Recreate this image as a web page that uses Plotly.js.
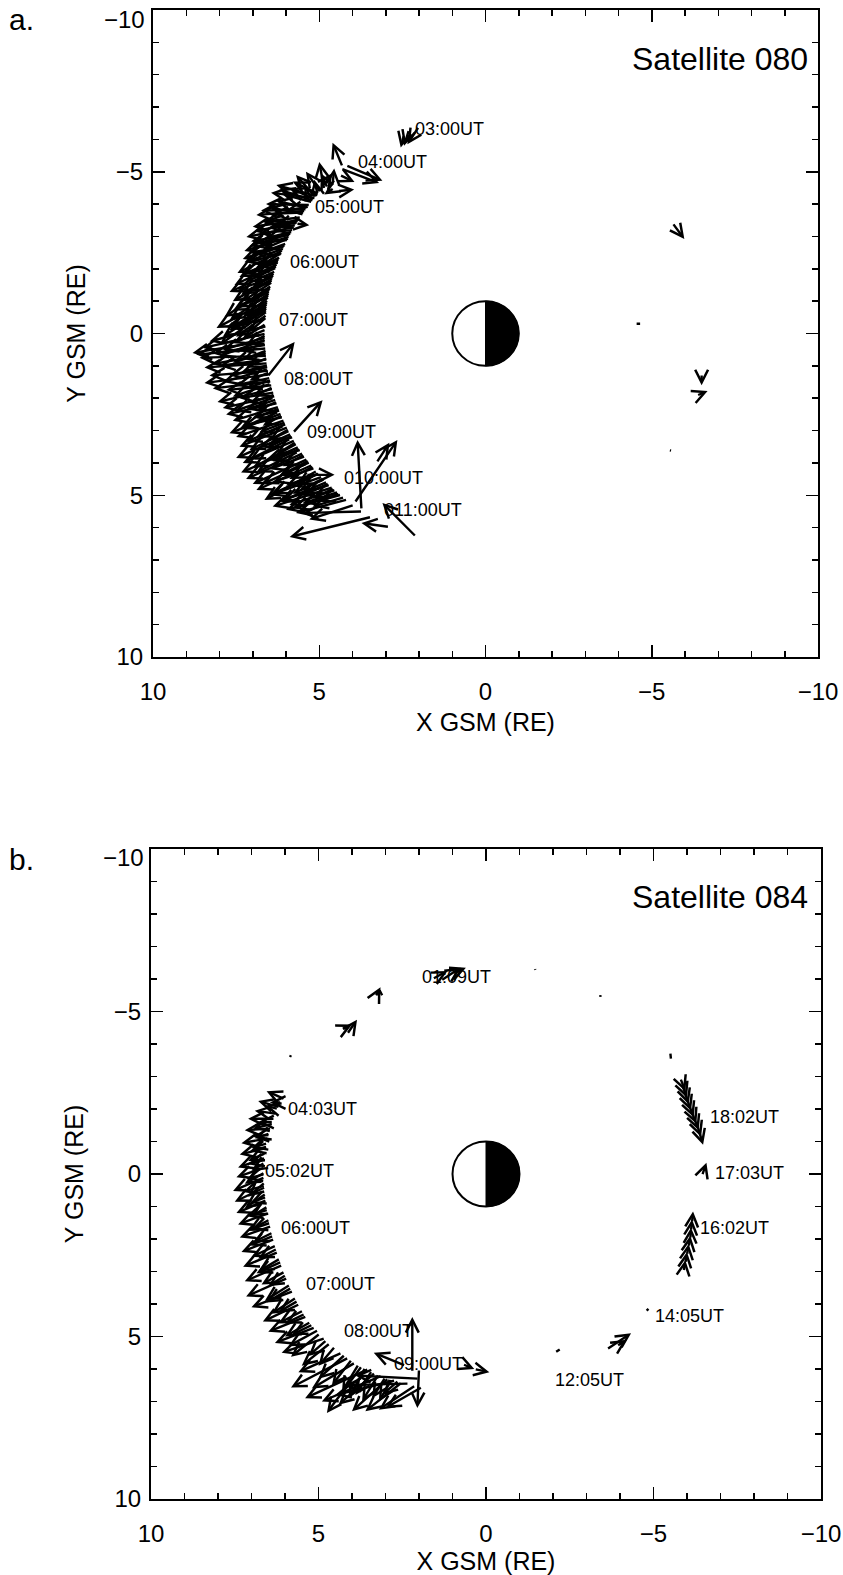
<!DOCTYPE html>
<html>
<head>
<meta charset="utf-8">
<script src="https://cdn.plot.ly/plotly-3.0.1.min.js"></script>
<style>
  html, body { margin: 0; padding: 0; background: #fff; }
  #chart { width: 843px; height: 1575px; }
</style>
</head>
<body>
<div id="chart"></div>
<script>
// ---------------- DATA (GSM coordinates, Earth radii) ----------------
// Each arrow row: [tailX, tailY, headX, headY]

// Panel a (Satellite 080)
const a_timeLabels = ["03:00UT","04:00UT","05:00UT","06:00UT","07:00UT","08:00UT","09:00UT","010:00UT","011:00UT"];
const a_labelX = [2.17, 3.88, 5.20, 5.95, 6.26, 6.11, 5.44, 4.33, 3.10];
const a_labelY = [-6.32, -5.30, -3.91, -2.21, -0.42, 1.41, 3.04, 4.47, 5.46];

const a_sparseArrows = [
  [2.00,-6.40, 2.35,-5.85],
  [2.30,-6.30, 2.45,-5.80],
  [2.45,-6.15, 2.55,-5.75],
  [4.30,-5.15, 4.60,-5.90],
  [4.35,-5.10, 3.20,-4.65],
  [4.20,-5.20, 3.10,-4.72],
  [4.39,-4.90, 3.94,-4.68],
  [4.60,-4.60, 4.55,-5.10],
  [4.75,-4.50, 4.95,-4.95],
  [4.55,-4.50, 4.85,-4.30],
  [4.45,-4.40, 3.95,-4.45],
  [4.90,-4.55, 4.60,-4.95],
  [5.05,-4.30, 5.15,-4.75],
  [5.20,-4.10, 5.45,-4.60],
  [4.85,-4.45, 5.00,-5.30],
  [4.95,-4.35, 5.40,-5.00],
  [5.10,-4.20, 5.70,-4.90],
  [5.70,-3.40, 5.30,-3.35],
  [-5.62,-3.42, -5.98,-2.92],
  [-6.50, 1.25, -6.50, 1.60],
  [-6.35, 1.92, -6.68, 1.78]
];
const a_dashes = [
  [-4.50,-0.30, -4.65,-0.30],
  [-5.50, 3.60, -5.58, 3.62]
];
const a_bandUpper = [
  [5.06,-4.24, 6.29,-4.59],
  [5.13,-4.15, 5.90,-4.50],
  [5.20,-4.06, 6.10,-4.30],
  [5.27,-3.97, 6.60,-4.00],
  [5.34,-3.88, 6.30,-4.10],
  [5.41,-3.79, 6.89,-3.66],
  [5.47,-3.69, 6.50,-3.90],
  [5.54,-3.59, 6.70,-3.45],
  [5.60,-3.50, 7.00,-3.30],
  [5.66,-3.40, 6.60,-3.50],
  [5.72,-3.30, 7.19,-2.98],
  [5.77,-3.20, 6.80,-3.10],
  [5.83,-3.10, 7.10,-2.70],
  [5.88,-3.00, 7.25,-2.55],
  [5.93,-2.89, 6.90,-2.80],
  [5.98,-2.79, 7.30,-2.30],
  [6.03,-2.68, 7.10,-2.50],
  [6.08,-2.58, 7.46,-1.87],
  [6.12,-2.47, 7.20,-2.20],
  [6.16,-2.37, 7.40,-1.75],
  [6.20,-2.26, 7.00,-1.90],
  [6.24,-2.15, 7.55,-1.50],
  [6.28,-2.04, 7.20,-1.60],
  [6.31,-1.93, 7.70,-1.28],
  [6.34,-1.82, 7.35,-1.20],
  [6.38,-1.71, 7.60,-1.00],
  [6.40,-1.60, 7.30,-1.00],
  [6.43,-1.48, 7.85,-0.51],
  [6.46,-1.37, 7.50,-0.80],
  [6.48,-1.26, 7.70,-0.40],
  [6.50,-1.15, 7.30,-0.50],
  [6.52,-1.03, 8.09,-0.17],
  [6.54,-0.92, 7.60,-0.20],
  [6.55,-0.80, 7.90, 0.10],
  [6.56,-0.69, 8.00, 0.35],
  [6.57,-0.58, 7.50, 0.10]
];
const a_bandInnerUpper = [
  [5.00,-4.30, 5.80,-4.70],
  [5.16,-4.10, 6.20,-4.45],
  [5.30,-3.92, 6.00,-3.80],
  [5.44,-3.74, 6.40,-3.70],
  [5.57,-3.55, 6.30,-3.30],
  [5.69,-3.35, 6.50,-3.25],
  [5.80,-3.15, 6.60,-2.95],
  [5.90,-2.95, 6.70,-2.60],
  [6.00,-2.74, 6.80,-2.45],
  [6.10,-2.52, 6.75,-2.10],
  [6.18,-2.31, 6.90,-2.05],
  [6.26,-2.10, 6.95,-1.70],
  [6.33,-1.88, 7.00,-1.45],
  [6.39,-1.66, 7.05,-1.30],
  [6.44,-1.43, 7.10,-0.95],
  [6.49,-1.20, 7.15,-0.80],
  [6.53,-0.97, 7.20,-0.55],
  [6.56,-0.75, 7.25,-0.30],
  [6.58,-0.52, 7.10,-0.05]
];
const a_bandMid = [
  [5.10,-4.18, 6.45,-4.35],
  [5.37,-3.84, 6.75,-3.80],
  [5.63,-3.45, 6.95,-3.15],
  [5.86,-3.05, 7.05,-2.85],
  [6.05,-2.63, 7.25,-2.20],
  [6.22,-2.20, 7.30,-1.85],
  [6.36,-1.76, 7.45,-1.35],
  [6.47,-1.31, 7.60,-0.70],
  [6.55,-0.86, 7.70,-0.10],
  [6.60, 0.18, 8.00, 0.70],
  [6.57, 0.63, 8.20, 0.95],
  [6.53, 1.10, 7.90, 1.50],
  [6.45, 1.55, 7.60, 1.95],
  [6.36, 1.98, 7.55, 2.40],
  [6.22, 2.42, 7.40, 2.95],
  [6.06, 2.85, 7.20, 3.35],
  [5.86, 3.25, 7.10, 3.90],
  [5.63, 3.65, 6.90, 4.30],
  [5.37, 4.02, 6.70, 4.65],
  [5.10, 4.36, 6.40, 4.95],
  [4.80, 4.70, 6.10, 5.15],
  [4.46, 4.98, 5.80, 5.40]
];
const a_bandLower = [
  [6.58,-0.46, 7.80,-0.20],
  [6.60,-0.23, 8.30, 0.25],
  [6.60,-0.12, 7.60, 0.30],
  [6.60, 0.00, 8.50, 0.45],
  [6.60, 0.12, 7.90, 0.50],
  [6.60, 0.23, 8.81, 0.60],
  [6.59, 0.35, 8.20, 0.62],
  [6.58, 0.46, 8.70, 0.65],
  [6.57, 0.58, 7.60, 0.90],
  [6.56, 0.69, 8.60, 0.75],
  [6.55, 0.80, 8.00, 1.00],
  [6.54, 0.92, 8.45, 1.05],
  [6.52, 1.03, 7.70, 1.30],
  [6.50, 1.15, 8.30, 1.30],
  [6.48, 1.26, 8.45, 1.53],
  [6.46, 1.37, 7.50, 1.60],
  [6.43, 1.48, 8.20, 1.70],
  [6.40, 1.60, 7.80, 1.75],
  [6.38, 1.71, 8.06, 2.12],
  [6.34, 1.82, 7.40, 2.00],
  [6.31, 1.93, 7.90, 2.30],
  [6.28, 2.04, 7.20, 2.35],
  [6.24, 2.15, 7.80, 2.50],
  [6.20, 2.26, 7.60, 2.70],
  [6.16, 2.37, 7.00, 2.60],
  [6.12, 2.47, 7.70, 3.08],
  [6.08, 2.58, 7.30, 2.85],
  [6.03, 2.68, 7.50, 3.20],
  [5.98, 2.79, 6.90, 3.20],
  [5.93, 2.89, 7.40, 3.50],
  [5.88, 3.00, 7.10, 3.60],
  [5.83, 3.10, 7.50, 3.85],
  [5.77, 3.20, 6.80, 3.50],
  [5.72, 3.30, 7.30, 4.00],
  [5.66, 3.40, 7.00, 4.15],
  [5.60, 3.50, 7.35, 4.30],
  [5.54, 3.59, 6.60, 3.90],
  [5.47, 3.69, 7.20, 4.50],
  [5.41, 3.79, 6.50, 4.20],
  [5.34, 3.88, 7.00, 4.65],
  [5.27, 3.97, 6.20, 4.40],
  [5.20, 4.06, 6.89, 4.84],
  [5.13, 4.15, 6.40, 4.60],
  [5.06, 4.24, 6.65, 5.15],
  [4.98, 4.33, 6.00, 4.70],
  [4.90, 4.42, 6.50, 5.00],
  [4.83, 4.50, 5.80, 4.95],
  [4.75, 4.58, 6.20, 5.20],
  [4.67, 4.67, 5.60, 5.00],
  [4.58, 4.75, 6.40, 5.35],
  [4.50, 4.83, 5.90, 5.30],
  [4.42, 4.90, 5.50, 5.25],
  [4.33, 4.98, 6.00, 5.45],
  [4.24, 5.06, 5.20, 5.35],
  [4.15, 5.13, 5.70, 5.55],
  [5.40, 4.37, 4.54, 4.37]
];
const a_bandInnerLower = [
  [6.60,-0.30, 7.30, 0.15],
  [6.60, 0.05, 7.20, 0.35],
  [6.60, 0.30, 7.40, 0.55],
  [6.57, 0.52, 7.30, 0.80],
  [6.55, 0.75, 7.20, 1.05],
  [6.53, 0.97, 7.35, 1.20],
  [6.49, 1.20, 7.10, 1.45],
  [6.44, 1.43, 7.20, 1.70],
  [6.39, 1.66, 7.00, 1.95],
  [6.33, 1.88, 7.10, 2.15],
  [6.26, 2.10, 6.90, 2.40],
  [6.18, 2.31, 6.95, 2.60],
  [6.10, 2.52, 6.70, 2.85],
  [6.00, 2.74, 6.80, 3.05],
  [5.90, 2.95, 6.50, 3.30],
  [5.80, 3.15, 6.60, 3.55],
  [5.69, 3.35, 6.30, 3.75],
  [5.57, 3.55, 6.40, 3.95],
  [5.44, 3.74, 6.10, 4.10],
  [5.30, 3.92, 6.10, 4.35],
  [5.16, 4.10, 5.90, 4.50],
  [5.00, 4.30, 5.70, 4.70],
  [4.85, 4.47, 5.60, 4.85],
  [4.70, 4.63, 5.40, 4.95],
  [4.55, 4.78, 5.20, 5.10],
  [4.38, 4.94, 5.00, 5.20]
];
const a_tailArrows = [
  [3.43, 5.67, 5.89, 6.29],
  [3.70, 5.50, 5.50, 5.55],
  [3.95, 5.30, 5.30, 5.75],
  [6.56, 1.34, 5.74, 0.26],
  [5.80, 3.08, 4.90, 2.06],
  [3.73, 5.45, 3.85, 3.29],
  [3.94, 5.24, 2.65, 3.29],
  [3.28, 4.00, 2.89, 3.38],
  [2.08, 6.29, 3.10, 5.24],
  [2.89, 5.98, 3.73, 5.86]
];

// Panel b (Satellite 084)
const b_timeLabels = ["01:09UT","04:03UT","05:02UT","06:00UT","07:00UT","08:00UT","09:00UT","12:05UT","14:05UT","16:02UT","17:03UT","18:02UT"];
const b_labelX = [1.97, 5.97, 6.66, 6.18, 5.43, 4.30, 2.81, -2.00, -4.99, -6.33, -6.78, -6.63];
const b_labelY = [-6.07, -2.00, -0.10, 1.66, 3.39, 4.84, 5.85, 6.35, 4.38, 1.66, -0.03, -1.76];

const b_sparseArrows = [
  [1.35,-5.95, 0.75,-6.35],
  [1.60,-6.00, 1.15,-6.25],
  [0.95,-6.20, 0.60,-6.35],
  [3.30,-5.45, 3.15,-5.75],
  [4.15,-4.30, 3.85,-4.75],
  [4.30,-4.45, 4.00,-4.60],
  [-5.80,-2.95,-5.95,-2.55],
  [-5.85,-2.75,-6.00,-2.35],
  [-5.92,-2.55,-6.05,-2.15],
  [-5.98,-2.35,-6.12,-1.95],
  [-6.05,-2.15,-6.20,-1.75],
  [-6.12,-1.95,-6.28,-1.55],
  [-6.20,-1.75,-6.35,-1.35],
  [-6.28,-1.55,-6.42,-1.15],
  [-6.35,-1.35,-6.48,-0.90],
  [-6.45, 0.05,-6.58,-0.35],
  [-5.90, 3.00,-5.95, 2.65],
  [-5.95, 2.75,-6.00, 2.40],
  [-6.00, 2.50,-6.05, 2.15],
  [-6.05, 2.25,-6.10, 1.90],
  [-6.10, 2.00,-6.12, 1.65],
  [-6.12, 1.75,-6.15, 1.40],
  [-6.15, 1.50,-6.18, 1.15],
  [-3.60, 5.40,-4.33, 4.90],
  [-3.90, 5.30,-4.20, 5.10],
  [0.70, 5.85, 0.35, 6.00],
  [0.35, 6.00,-0.10, 6.10]
];
const b_dashes = [
  [5.80,-3.70, 5.85,-3.60],
  [-1.45,-6.35,-1.47,-6.28],
  [-3.40,-5.55,-3.42,-5.45],
  [-5.50,-3.75,-5.52,-3.55],
  [-4.75, 4.25,-4.85, 4.15],
  [-2.05, 5.50,-2.20, 5.40],
  [3.20,-5.70, 3.10,-5.50]
];
const b_bandUpper = [
  [6.00,-2.30, 6.55,-2.55],
  [6.10,-2.20, 6.45,-2.20],
  [6.15,-2.05, 6.80,-2.25],
  [6.25,-1.85, 6.90,-1.95],
  [6.30,-1.70, 7.10,-1.70],
  [6.35,-1.55, 6.95,-1.40],
  [6.40,-1.40, 7.20,-1.35],
  [6.45,-1.25, 6.90,-1.10],
  [6.48,-1.10, 7.30,-0.95],
  [6.52,-0.95, 7.00,-0.80],
  [6.55,-0.80, 7.35,-0.60],
  [6.57,-0.65, 7.10,-0.40],
  [6.58,-0.50, 7.40,-0.20],
  [6.60,-0.35, 7.00,-0.10],
  [6.60,-0.20, 7.45, 0.10],
  [6.60,-0.05, 7.20, 0.30]
];
const b_bandLower = [
  [6.60, 0.10, 7.55, 0.52],
  [6.59, 0.25, 7.10, 0.70],
  [6.58, 0.40, 7.50, 0.85],
  [6.56, 0.60, 7.20, 1.05],
  [6.54, 0.80, 7.45, 1.20],
  [6.51, 1.00, 7.00, 1.30],
  [6.48, 1.20, 7.40, 1.55],
  [6.45, 1.40, 7.10, 1.75],
  [6.40, 1.60, 7.35, 1.95],
  [6.36, 1.80, 6.95, 2.10],
  [6.31, 2.00, 7.30, 2.40],
  [6.26, 2.20, 7.00, 2.55],
  [6.20, 2.40, 7.25, 2.85],
  [6.14, 2.60, 6.80, 3.00],
  [6.07, 2.80, 7.20, 3.30],
  [6.00, 3.00, 6.70, 3.40],
  [5.92, 3.20, 7.16, 3.77],
  [5.84, 3.40, 6.60, 3.90],
  [5.75, 3.60, 7.00, 4.10],
  [5.66, 3.80, 6.40, 4.30],
  [5.56, 4.00, 6.66, 4.54],
  [5.45, 4.20, 6.20, 4.60],
  [5.35, 4.38, 6.50, 4.85],
  [5.23, 4.55, 6.00, 5.00]
];
const b_bandInner = [
  [6.20,-2.00, 6.60,-2.10],
  [6.35,-1.60, 6.80,-1.60],
  [6.45,-1.20, 6.95,-1.15],
  [6.52,-0.85, 7.05,-0.70],
  [6.57,-0.45, 7.10,-0.30],
  [6.60, 0.00, 7.15, 0.15],
  [6.59, 0.35, 7.25, 0.55],
  [6.55, 0.70, 7.05, 0.90],
  [6.50, 1.10, 7.15, 1.30],
  [6.43, 1.50, 7.00, 1.70],
  [6.34, 1.90, 7.05, 2.20],
  [6.23, 2.30, 6.80, 2.60],
  [6.10, 2.70, 6.85, 3.05],
  [5.96, 3.10, 6.50, 3.45],
  [5.80, 3.50, 6.55, 3.95],
  [5.61, 3.90, 6.20, 4.25],
  [5.40, 4.30, 6.00, 4.60],
  [5.17, 4.63, 5.80, 4.95]
];
const b_bandBottom = [
  [5.10, 4.72, 6.30, 5.20],
  [4.95, 4.90, 5.82, 5.62],
  [4.80, 5.05, 6.10, 5.50],
  [4.65, 5.20, 5.50, 5.90],
  [4.30, 5.50, 5.60, 6.10],
  [4.10, 5.65, 5.82, 6.57],
  [3.90, 5.80, 5.20, 6.60],
  [3.70, 5.90, 4.75, 7.35],
  [3.50, 6.00, 5.40, 6.90],
  [3.30, 6.10, 4.40, 7.10],
  [3.10, 6.20, 4.90, 7.00],
  [2.90, 6.28, 4.00, 7.30],
  [2.70, 6.35, 4.50, 6.80],
  [2.50, 6.40, 3.60, 7.30],
  [2.30, 6.45, 4.20, 6.50],
  [2.10, 6.50, 3.20, 7.25],
  [2.00, 6.30, 3.90, 6.20],
  [1.90, 6.55, 3.00, 7.20],
  [5.00, 4.80, 5.90, 5.30],
  [4.75, 5.10, 5.30, 5.60],
  [4.50, 5.30, 5.00, 5.90],
  [4.20, 5.55, 5.00, 6.30],
  [4.00, 5.70, 4.60, 6.50],
  [3.80, 5.85, 4.30, 6.70],
  [3.60, 5.95, 4.10, 6.90],
  [3.40, 6.05, 3.90, 6.80],
  [3.20, 6.15, 3.70, 7.00],
  [3.00, 6.25, 3.40, 6.90],
  [2.80, 6.30, 3.20, 7.00],
  [2.60, 6.35, 3.10, 6.80],
  [2.20, 6.10, 2.20, 4.40],
  [2.00, 6.00, 2.05, 7.20],
  [2.40, 5.90, 3.35, 5.50]
];

// ---------------- LAYOUT HELPERS ----------------
const W = 843, H = 1575;
const px = v => v / W;
const py = v => 1 - v / H;

function arrowAnns(rows, xa, ya, head) {
  return rows.map(r => ({
    xref: xa, yref: ya, axref: xa, ayref: ya,
    ax: r[0], ay: r[1], x: r[2], y: r[3],
    text: '', showarrow: true,
    arrowhead: head ? 5 : 0, arrowsize: 1.05, arrowwidth: 2.4,
    arrowcolor: '#000', standoff: 0, startstandoff: 0
  }));
}
function labelAnns(texts, xs, ys, xa, ya) {
  return texts.map((t, i) => ({
    xref: xa, yref: ya, x: xs[i], y: ys[i], text: t, showarrow: false,
    xanchor: 'left', yanchor: 'middle',
    font: {family: 'Liberation Sans, Arial, sans-serif', size: 18, color: '#000'}
  }));
}
function earthShapes(xa, ya) {
  const pts = [];
  for (let k = 0; k <= 36; k++) {
    const t = -Math.PI / 2 + Math.PI * k / 36;
    pts.push((-Math.cos(t)).toFixed(4) + ',' + Math.sin(t).toFixed(4));
  }
  return [
    {type: 'circle', xref: xa, yref: ya, x0: -1, x1: 1, y0: -1, y1: 1,
     fillcolor: '#fff', line: {color: '#000', width: 2}},
    {type: 'path', xref: xa, yref: ya, path: 'M' + pts.join('L') + 'Z',
     fillcolor: '#000', line: {color: '#000', width: 1}}
  ];
}

const tickFont = {family: 'Liberation Sans, Arial, sans-serif', size: 24, color: '#000'};
const titleFont = {family: 'Liberation Sans Narrow, Arial Narrow, Liberation Sans, Arial, sans-serif', size: 25, color: '#000'};

function xAxis(domain, anchor) {
  return {
    domain: domain, anchor: anchor, range: [10, -10],
    tick0: 0, dtick: 5, ticks: 'inside', ticklen: 12, tickwidth: 1.5, tickcolor: '#000',
    minor: {dtick: 1, ticks: 'inside', ticklen: 6, tickwidth: 1.5, tickcolor: '#000'},
    showline: true, linewidth: 2, linecolor: '#000', mirror: 'ticks',
    showgrid: false, zeroline: false, tickfont: tickFont, ticklabelstandoff: 12,
    ticklabeloverflow: 'allow',
    title: {text: 'X GSM (RE)', font: titleFont, standoff: 10}
  };
}
function yAxis(domain, anchor) {
  return {
    domain: domain, anchor: anchor, range: [10, -10],
    tick0: 0, dtick: 5, ticks: 'inside', ticklen: 12, tickwidth: 1.5, tickcolor: '#000',
    minor: {dtick: 1, ticks: 'inside', ticklen: 6, tickwidth: 1.5, tickcolor: '#000'},
    showline: true, linewidth: 2, linecolor: '#000', mirror: 'ticks',
    showgrid: false, zeroline: false, tickfont: tickFont, ticklabelstandoff: 3,
    ticklabeloverflow: 'allow',
    // the top label (−10) sits just below the frame corner; it is placed as an annotation
    labelalias: {'−10': ' ', '-10': ' '},
    title: {text: 'Y GSM (RE)', font: titleFont, standoff: 23}
  };
}

const annotations = []
  .concat(arrowAnns(a_bandUpper, 'x', 'y', true))
  .concat(arrowAnns(a_bandInnerUpper, 'x', 'y', true))
  .concat(arrowAnns(a_bandMid, 'x', 'y', true))
  .concat(arrowAnns(a_bandLower, 'x', 'y', true))
  .concat(arrowAnns(a_bandInnerLower, 'x', 'y', true))
  .concat(arrowAnns(a_tailArrows, 'x', 'y', true))
  .concat(arrowAnns(a_sparseArrows, 'x', 'y', true))
  .concat(arrowAnns(a_dashes, 'x', 'y', false))
  .concat(labelAnns(a_timeLabels, a_labelX, a_labelY, 'x', 'y'))
  .concat(arrowAnns(b_bandUpper, 'x2', 'y2', true))
  .concat(arrowAnns(b_bandLower, 'x2', 'y2', true))
  .concat(arrowAnns(b_bandInner, 'x2', 'y2', true))
  .concat(arrowAnns(b_bandBottom, 'x2', 'y2', true))
  .concat(arrowAnns(b_sparseArrows, 'x2', 'y2', true))
  .concat(arrowAnns(b_dashes, 'x2', 'y2', false))
  .concat(labelAnns(b_timeLabels, b_labelX, b_labelY, 'x2', 'y2'))
  .concat([
    {xref: 'paper', yref: 'paper', x: px(147), y: py(19), xanchor: 'right', yanchor: 'middle',
     text: '−10', showarrow: false, font: tickFont},
    {xref: 'paper', yref: 'paper', x: px(146), y: py(857), xanchor: 'right', yanchor: 'middle',
     text: '−10', showarrow: false, font: tickFont},
    {xref: 'paper', yref: 'paper', x: px(7), y: py(19), xanchor: 'left', yanchor: 'middle',
     text: 'a.', showarrow: false, font: {family: 'Liberation Sans, Arial', size: 30, color: '#000'}},
    {xref: 'paper', yref: 'paper', x: px(7), y: py(860), xanchor: 'left', yanchor: 'middle',
     text: 'b.', showarrow: false, font: {family: 'Liberation Sans, Arial', size: 30, color: '#000'}},
    {xref: 'paper', yref: 'paper', x: px(720), y: py(59), xanchor: 'center', yanchor: 'middle',
     text: 'Satellite 080', showarrow: false, font: {family: 'Liberation Sans, Arial', size: 32, color: '#000'}},
    {xref: 'paper', yref: 'paper', x: px(720), y: py(897), xanchor: 'center', yanchor: 'middle',
     text: 'Satellite 084', showarrow: false, font: {family: 'Liberation Sans, Arial', size: 32, color: '#000'}}
  ]);

const layout = {
  width: W, height: H,
  margin: {l: 0, r: 0, t: 0, b: 0},
  paper_bgcolor: '#fff', plot_bgcolor: '#fff',
  showlegend: false,
  xaxis: xAxis([px(153), px(818)], 'y'),
  yaxis: yAxis([py(657), py(10)], 'x'),
  xaxis2: xAxis([px(151), px(821)], 'y2'),
  yaxis2: yAxis([py(1499), py(849)], 'x2'),
  shapes: earthShapes('x', 'y').concat(earthShapes('x2', 'y2')),
  annotations: annotations
};

const data = [
  {x: [null], y: [null], xaxis: 'x', yaxis: 'y', type: 'scatter', mode: 'markers', hoverinfo: 'skip'},
  {x: [null], y: [null], xaxis: 'x2', yaxis: 'y2', type: 'scatter', mode: 'markers', hoverinfo: 'skip'}
];

Plotly.newPlot('chart', data, layout, {staticPlot: true, displayModeBar: false});
</script>
</body>
</html>
